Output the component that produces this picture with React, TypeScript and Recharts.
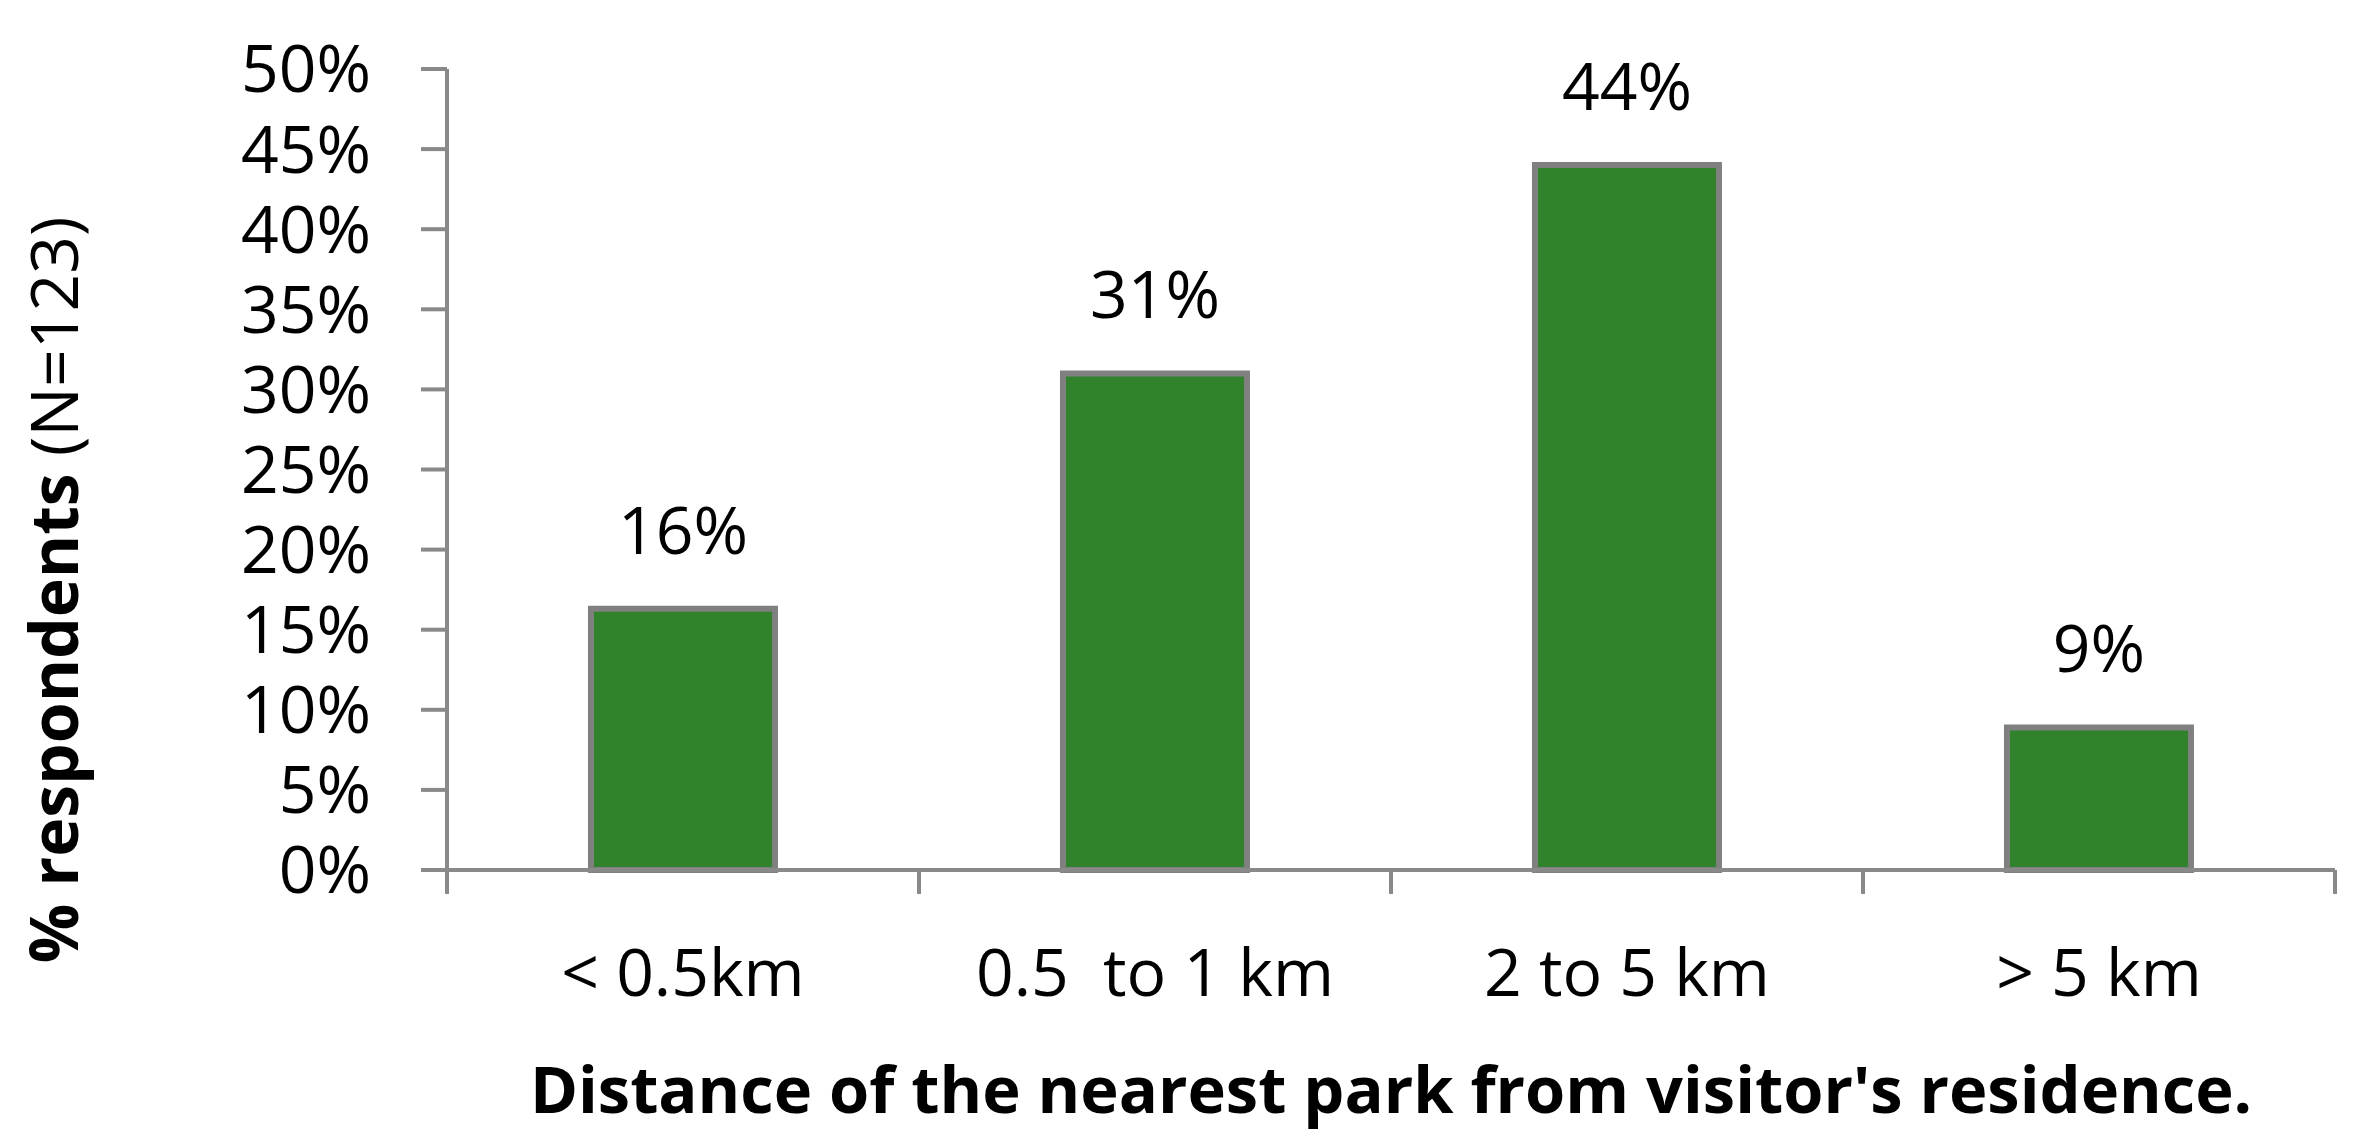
import { BarChart, Bar, XAxis, YAxis, LabelList, Label } from 'recharts';

const categories = ['< 0.5km', '0.5  to 1 km', '2 to 5 km', '> 5 km'];
const shares = [16.3, 31, 44, 8.9];
const yTicks = [0, 5, 10, 15, 20, 25, 30, 35, 40, 45, 50];

const xTitle = "Distance of the nearest park from visitor's residence.";
const yTitleBold = '% respondents';
const yTitleRest = ' (N=123)';

const W = 2357;
const H = 1142;
const MARGIN = { top: 69, right: 22, left: 0, bottom: 0 };
const Y_AXIS_W = 447;
const X_AXIS_H = 272;
const PLOT_W = W - MARGIN.right - MARGIN.left - Y_AXIS_W;
const BAND = PLOT_W / categories.length;

const FONT = '"Open Sans", "Liberation Sans", sans-serif';
const AXIS_GREY = '#898989';
const X_TICK_SIZE = 24;
const X_TICK_MARGIN = 30;

const data = categories.map((name, i) => ({ name, value: shares[i] }));

function CategoryTick(props: any) {
  const { x, y, payload, index } = props;
  const axisY = y - X_TICK_SIZE - X_TICK_MARGIN;
  const half = BAND / 2;
  return (
    <g>
      <line x1={x - half} x2={x - half} y1={axisY} y2={axisY + X_TICK_SIZE} stroke={AXIS_GREY} strokeWidth={4} />
      {index === categories.length - 1 && (
        <line x1={x + half} x2={x + half} y1={axisY} y2={axisY + X_TICK_SIZE} stroke={AXIS_GREY} strokeWidth={4} />
      )}
      <text
        x={x}
        y={axisY + 126}
        textAnchor="middle"
        fill="#000"
        fontSize={66}
        fontFamily={FONT}
        style={{ whiteSpace: 'pre' }}
      >
        {payload.value}
      </text>
    </g>
  );
}

function XTitle() {
  return (
    <text
      x={Y_AXIS_W + PLOT_W / 2}
      y={1113}
      textAnchor="middle"
      fill="#000"
      fontSize={65}
      fontWeight="bold"
      fontFamily={FONT}
    >
      {xTitle}
    </text>
  );
}

function YTitle() {
  return (
    <text
      transform="translate(78, 590) rotate(-90)"
      textAnchor="middle"
      fill="#000"
      fontSize={66}
      fontFamily={FONT}
    >
      <tspan fontWeight="bold">{yTitleBold}</tspan>
      <tspan style={{ whiteSpace: 'pre' }}>{yTitleRest}</tspan>
    </text>
  );
}

export default function App() {
  return (
    <div style={{ position: 'absolute', left: 0, top: 0, width: W, height: H, background: '#fff' }}>
      <BarChart width={W} height={H} data={data} margin={MARGIN} barCategoryGap="30.5%">
        <XAxis
          dataKey="name"
          height={X_AXIS_H}
          tickLine={false}
          tickSize={X_TICK_SIZE}
          tickMargin={X_TICK_MARGIN}
          axisLine={{ stroke: AXIS_GREY, strokeWidth: 4 }}
          tick={<CategoryTick />}
          interval={0}
        >
          <Label content={XTitle} />
        </XAxis>
        <YAxis
          width={Y_AXIS_W}
          domain={[0, 50]}
          ticks={yTicks}
          interval={0}
          tickFormatter={(v: number) => `${v}%`}
          tickSize={26}
          tickMargin={50}
          tickLine={{ stroke: AXIS_GREY, strokeWidth: 4 }}
          axisLine={{ stroke: AXIS_GREY, strokeWidth: 4 }}
          tick={{ fill: '#000', fontSize: 66, fontFamily: FONT }}
        >
          <Label content={YTitle} />
        </YAxis>
        <Bar dataKey="value" fill="#31832B" stroke="#808080" strokeWidth={6} isAnimationActive={false}>
          <LabelList
            dataKey="value"
            position="top"
            offset={55}
            formatter={(v: any) => `${Math.round(Number(v))}%`}
            fill="#000"
            fontSize={66}
            fontFamily={FONT}
          />
        </Bar>
      </BarChart>
    </div>
  );
}
